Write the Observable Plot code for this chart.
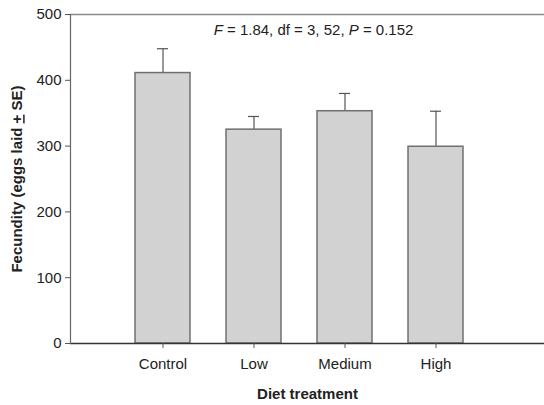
<!DOCTYPE html>
<html>
<head>
<meta charset="utf-8">
<script src="https://cdn.jsdelivr.net/npm/d3@7"></script>
<script src="https://cdn.jsdelivr.net/npm/@observablehq/plot@0.6"></script>
<style>
  html, body { margin: 0; padding: 0; background: #fff; }
  svg { display: block; }
</style>
</head>
<body>
<div id="chart"></div>
<script>
const categories = ["Control", "Low", "Medium", "High"];
const means = [411, 325, 353, 299];
const se = [37, 20, 27, 54];
const yTicks = [0, 100, 200, 300, 400, 500];
const yLabelParts = [["Fecundity (eggs laid ", false], ["+", true], [" SE)", false]];
const xLabel = "Diet treatment";
const statParts = [["F", true], [" = 1.84, df = 3, 52, ", false], ["P", true], [" = 0.152", false]];

const data = categories.map((c, i) => ({cat: c, mean: means[i], top: means[i] + se[i]}));

const chart = Plot.plot({
  width: 544,
  height: 405,
  marginLeft: 70,
  marginRight: 0,
  marginTop: 14,
  marginBottom: 62,
  style: {fontFamily: "'Liberation Sans', Arial, sans-serif", fontSize: "15px", color: "#222", background: "#fff"},
  x: {domain: categories, range: [116, 482], paddingInner: 0.4, paddingOuter: 0.2},
  y: {domain: [0, 500]},
  marks: [
    Plot.ruleX(data, {x: "cat", y1: "mean", y2: "top", stroke: "#555", strokeWidth: 1.2}),
    Plot.tickY(data, {x: "cat", y: "top", stroke: "#555", strokeWidth: 1.2, insetLeft: 22, insetRight: 22}),
    Plot.barY(data, {x: "cat", y: "mean", fill: "#d2d2d2", stroke: "#707070", strokeWidth: 1.5}),
    Plot.ruleY([500], {stroke: "#8a8a8a", strokeWidth: 1.5}),
    Plot.ruleY([0], {stroke: "#333", strokeWidth: 1.5}),
    Plot.frame({anchor: "left", stroke: "#666", strokeWidth: 1.2}),
    Plot.axisY({ticks: yTicks, tickSize: 5, tickPadding: 4, stroke: "#555", label: "Y", labelAnchor: "center", labelOffset: 59, fontSize: 15}),
    Plot.axisX({tickSize: 5, tickPadding: 10, stroke: "#555", label: xLabel, labelAnchor: "center", labelOffset: 55, fontSize: 15}),
    Plot.text(["stat"], {frameAnchor: "top", dx: 6, dy: 10, fontSize: 15, fill: "#222", className: "stat"})
  ]
});

document.getElementById("chart").appendChild(chart);

const svg = d3.select(chart);
// y label with underlined plus
const yl = svg.select("[aria-label='y-axis label'] text");
yl.text(null).attr("font-weight", "bold");
yLabelParts.forEach(([t, u]) => yl.append("tspan").attr("text-decoration", u ? "underline" : null).text(t));
// x label
svg.select("[aria-label='x-axis label'] text").text(xLabel).attr("font-weight", "bold");
// italic F and P in stat text
const st = svg.select("g.stat text");
st.text(null);
statParts.forEach(([t, it]) => st.append("tspan").attr("font-style", it ? "italic" : "normal").text(t));
</script>
</body>
</html>
